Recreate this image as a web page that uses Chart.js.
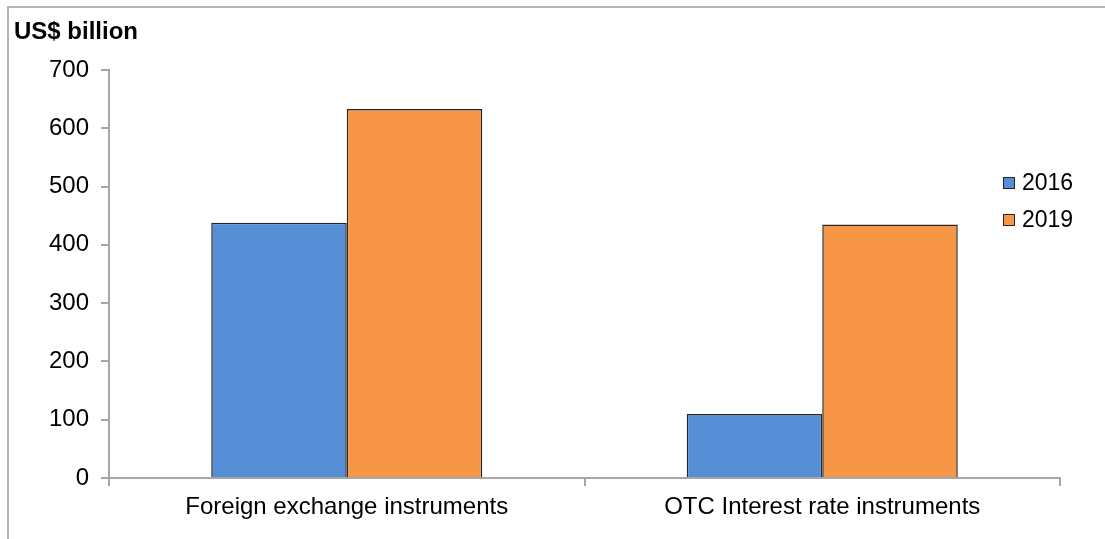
<!DOCTYPE html>
<html>
<head>
<meta charset="utf-8">
<script src="https://cdn.jsdelivr.net/npm/chart.js@4/dist/chart.umd.min.js"></script>
<style>
  html, body { margin: 0; padding: 0; background: #fff; }
  #wrap { width: 1105px; height: 539px; }
</style>
</head>
<body>
<div id="wrap"><canvas id="barChart" width="1105" height="539"></canvas></div>
<script>
// data
var categories = ['Foreign exchange instruments', 'OTC Interest rate instruments'];
var years = ['2016', '2019'];
var values2016 = [438, 110];
var values2019 = [633, 435];
var yTicks = [0, 100, 200, 300, 400, 500, 600, 700];

var FONT = '"Liberation Sans", Arial, sans-serif';
var axisGray = '#a6a6a6';

// frame at top / left like the original export
var framePlugin = {
    id: 'frame',
    beforeDraw: function(chart) {
        var ctx = chart.ctx;
        ctx.save();
        ctx.strokeStyle = '#b4b4b4';
        ctx.lineWidth = 2;
        ctx.beginPath();
        ctx.moveTo(8, chart.height);
        ctx.lineTo(8, 7);
        ctx.lineTo(chart.width, 7);
        ctx.stroke();
        ctx.restore();
    }
};

// legend sits inside the plot, on the right
var legendPlugin = {
    id: 'insideLegend',
    afterDraw: function(chart) {
        var ctx = chart.ctx;
        var x = 1003, y = 183, gap = 37;
        ctx.save();
        ctx.font = '23px ' + FONT;
        ctx.textBaseline = 'middle';
        chart.data.datasets.forEach(function(ds, i) {
            var cy = y + i * gap;
            ctx.fillStyle = ds.backgroundColor;
            ctx.fillRect(x, cy - 6, 12, 12);
            ctx.strokeStyle = '#262626';
            ctx.lineWidth = 1;
            ctx.strokeRect(x + 0.5, cy - 5.5, 11, 11);
            ctx.fillStyle = '#000';
            ctx.fillText(ds.label, x + 19, cy + 1);
        });
        ctx.restore();
    }
};

var ctx = document.getElementById('barChart').getContext('2d');

var data = {
    labels: categories,
    datasets: [{
        label: years[0],
        data: values2016,
        backgroundColor: '#558ed5',
        borderColor: '#262626',
        borderWidth: 1.5
    }, {
        label: years[1],
        data: values2019,
        backgroundColor: '#f79646',
        borderColor: '#262626',
        borderWidth: 1.5
    }]
};

var config = {
    type: 'bar',
    data: data,
    plugins: [framePlugin, legendPlugin],
    options: {
        responsive: false,
        animation: false,
        datasets: {
            bar: { barPercentage: 1.0, categoryPercentage: 0.57 }
        },
        layout: {
            padding: { left: 14, right: 45, top: 0, bottom: 0 }
        },
        plugins: {
            legend: { display: false },
            tooltip: { enabled: false },
            title: {
                display: true,
                text: 'US$ billion',
                align: 'start',
                color: '#000',
                font: { family: FONT, size: 24, weight: 'bold' },
                padding: { top: 18, bottom: 23.2 }
            }
        },
        scales: {
            x: {
                afterFit: function(s) { s.height = 61; },
                grid: {
                    offset: true,
                    drawOnChartArea: false,
                    drawTicks: true,
                    tickLength: 8,
                    color: axisGray,
                    lineWidth: 2
                },
                border: { color: axisGray, width: 2 },
                ticks: {
                    color: '#000',
                    padding: 7,
                    font: { family: FONT, size: 24 }
                }
            },
            y: {
                min: 0,
                max: 700,
                afterFit: function(s) { s.width = 95; },
                afterBuildTicks: function(s) {
                    s.ticks = yTicks.map(function(v) { return { value: v }; });
                },
                grid: {
                    drawOnChartArea: false,
                    drawTicks: true,
                    tickLength: 8,
                    color: axisGray,
                    lineWidth: 2
                },
                border: { color: axisGray, width: 2 },
                ticks: {
                    color: '#000',
                    padding: 12,
                    font: { family: FONT, size: 24 }
                }
            }
        }
    }
};

var myChart = new Chart(ctx, config);
</script>
</body>
</html>
